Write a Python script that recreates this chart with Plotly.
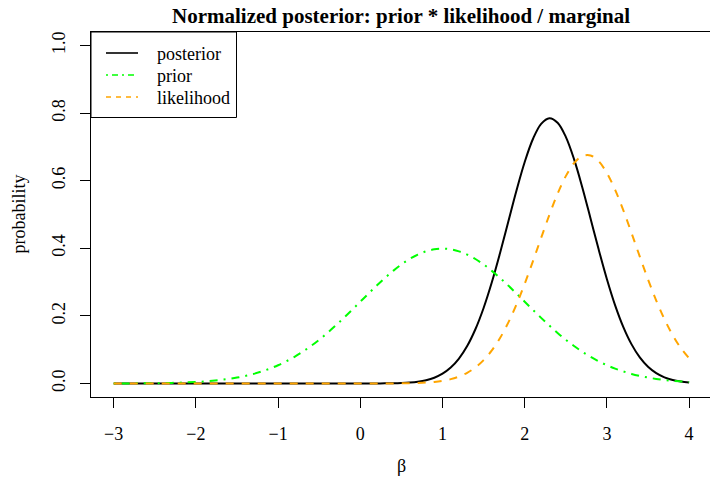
import plotly.graph_objects as go

beta = [-3.0, -2.9, -2.8, -2.7, -2.6, -2.5, -2.4, -2.3, -2.2, -2.1,
        -2.0, -1.9, -1.8, -1.7, -1.6, -1.5, -1.4, -1.3, -1.2, -1.1,
        -1.0, -0.9, -0.8, -0.7, -0.6, -0.5, -0.4, -0.3, -0.2, -0.1,
        0.0, 0.1, 0.2, 0.3, 0.4, 0.5, 0.6, 0.7, 0.8, 0.9,
        1.0, 1.1, 1.2, 1.3, 1.4, 1.5, 1.6, 1.7, 1.8, 1.9,
        2.0, 2.1, 2.2, 2.3, 2.4, 2.5, 2.6, 2.7, 2.8, 2.9,
        3.0, 3.1, 3.2, 3.3, 3.4, 3.5, 3.6, 3.7, 3.8, 3.9, 4.0]

prior = [0.0001, 0.0002, 0.0003, 0.0004, 0.0006, 0.0009, 0.0012, 0.0017, 0.0024, 0.0033,
         0.0044, 0.0060, 0.0079, 0.0104, 0.0136, 0.0175, 0.0224, 0.0283, 0.0355, 0.0440,
         0.0540, 0.0656, 0.0790, 0.0940, 0.1109, 0.1295, 0.1497, 0.1714, 0.1942, 0.2179,
         0.2420, 0.2661, 0.2897, 0.3123, 0.3332, 0.3521, 0.3683, 0.3814, 0.3910, 0.3970,
         0.3989, 0.3970, 0.3910, 0.3814, 0.3683, 0.3521, 0.3332, 0.3123, 0.2897, 0.2661,
         0.2420, 0.2179, 0.1942, 0.1714, 0.1497, 0.1295, 0.1109, 0.0940, 0.0790, 0.0656,
         0.0540, 0.0440, 0.0355, 0.0283, 0.0224, 0.0175, 0.0136, 0.0104, 0.0079, 0.0060, 0.0044]

likelihood = [0.0, 0.0, 0.0, 0.0, 0.0, 0.0, 0.0, 0.0, 0.0, 0.0,
              0.0, 0.0, 0.0, 0.0, 0.0, 0.0, 0.0, 0.0, 0.0, 0.0,
              0.0, 0.0, 0.0, 0.0, 0.0, 0.0, 0.0, 0.0, 0.0, 0.00001,
              0.00001, 0.00003, 0.00006, 0.00011, 0.00023, 0.00044, 0.00083, 0.00152, 0.00271, 0.00470,
              0.00790, 0.01291, 0.02052, 0.03166, 0.04746, 0.06914, 0.09786, 0.13464, 0.17995, 0.23371,
              0.29494, 0.36168, 0.43095, 0.49896, 0.56130, 0.61360, 0.65175, 0.67268, 0.67461, 0.65740,
              0.62248, 0.57272, 0.51205, 0.44480, 0.37544, 0.30793, 0.24540, 0.19005, 0.14300, 0.10455, 0.07429]

posterior = [0.0, 0.0, 0.0, 0.0, 0.0, 0.0, 0.0, 0.0, 0.0, 0.0,
             0.0, 0.0, 0.0, 0.0, 0.0, 0.0, 0.0, 0.0, 0.0, 0.0,
             0.0, 0.0, 0.0, 0.0, 0.0, 0.0, 0.0, 0.0, 0.000004, 0.00001,
             0.00003, 0.00006, 0.00015, 0.00033, 0.00069, 0.00142, 0.00281, 0.00533, 0.00974, 0.01712,
             0.02894, 0.04706, 0.07363, 0.11082, 0.16044, 0.22345, 0.29937, 0.38590, 0.47857, 0.57097,
             0.65525, 0.72340, 0.76833, 0.78505, 0.77167, 0.72970, 0.66380, 0.58092, 0.48908, 0.39612,
             0.30864, 0.23133, 0.16681, 0.11571, 0.07722, 0.04958, 0.03062, 0.01819, 0.01039, 0.00572, 0.00302]

x_ticks = [-3, -2, -1, 0, 1, 2, 3, 4]
y_ticks = [0.0, 0.2, 0.4, 0.6, 0.8, 1.0]

series_names = ["posterior", "prior", "likelihood"]
series_colors = ["#000000", "#00FF00", "#FFA500"]
series_dash = ["solid", "2px,6px,8px,6px", "8px,8px"]
legend_dash = ["solid", "2px,4px,6px,4px", "5px,5px"]

FONT = "Liberation Serif, Times New Roman, serif"

fig = go.Figure()
for name, ys, col, dash in zip(series_names, [posterior, prior, likelihood], series_colors, series_dash):
    fig.add_trace(go.Scatter(x=beta, y=ys, mode="lines", name=name,
                             line=dict(color=col, width=2, dash=dash, shape="spline", smoothing=1),
                             showlegend=False))

# plot area geometry (pixels)
L, T, B, W, H = 91, 32, 82, 710, 479
pw = W - L
ph = H - T - B

def px(xp):
    return (xp - L) / pw

def py(yp):
    return (H - B - yp) / ph

shapes = []
annotations = []
# legend box
shapes.append(dict(type="rect", xref="paper", yref="paper", x0=0, x1=px(236.5),
                   y0=py(117.5), y1=1, line=dict(color="black", width=1), fillcolor="white",
                   layer="above"))
rows = [53, 75, 97]
for name, col, dash, ry in zip(series_names, series_colors, legend_dash, rows):
    shapes.append(dict(type="line", xref="paper", yref="paper", x0=px(106), x1=px(138),
                       y0=py(ry), y1=py(ry), layer="above",
                       line=dict(color=col, width=1.6, dash=dash)))
    annotations.append(dict(xref="paper", yref="paper", x=px(155), y=py(ry + 0.5), text=name,
                            showarrow=False, xanchor="left", yanchor="middle",
                            font=dict(family=FONT, size=18, color="black")))

annotations.append(dict(xref="paper", yref="paper", x=px(401.4), y=py(16),
                        text="<b>Normalized posterior: prior * likelihood / marginal</b>",
                        showarrow=False, xanchor="center", yanchor="middle",
                        font=dict(family=FONT, size=21, color="black")))
annotations.append(dict(xref="paper", yref="paper", x=px(401.4), y=py(466), text="β",
                        showarrow=False, xanchor="center", yanchor="middle",
                        font=dict(family=FONT, size=18, color="black")))
annotations.append(dict(xref="paper", yref="paper", x=px(18), y=py(214.5), text="probability",
                        showarrow=False, xanchor="center", yanchor="middle", textangle=-90,
                        font=dict(family=FONT, size=18, color="black")))

fig.update_layout(
    width=W, height=H,
    margin=dict(l=L, r=0, t=T, b=B, pad=0),
    paper_bgcolor="white", plot_bgcolor="white",
    font=dict(family=FONT, size=18, color="black"),
    shapes=shapes, annotations=annotations,
    xaxis=dict(range=[-3.276, 4.254], tickvals=x_ticks, ticks="outside", ticklen=10,
               tickcolor="black", showgrid=False, zeroline=False, showline=True,
               linecolor="black", linewidth=1, mirror=True, ticklabelstandoff=10,
               tickfont=dict(family=FONT, size=18)),
    yaxis=dict(range=[-0.04, 1.04], tickvals=y_ticks, tickformat=".1f", ticks="outside",
               ticklen=10, tickcolor="black", showgrid=False, zeroline=False, showline=True,
               linecolor="black", linewidth=1, mirror=False, tickangle=-90,
               ticklabelstandoff=8, tickfont=dict(family=FONT, size=18)),
)

fig.write_html("out.html")
